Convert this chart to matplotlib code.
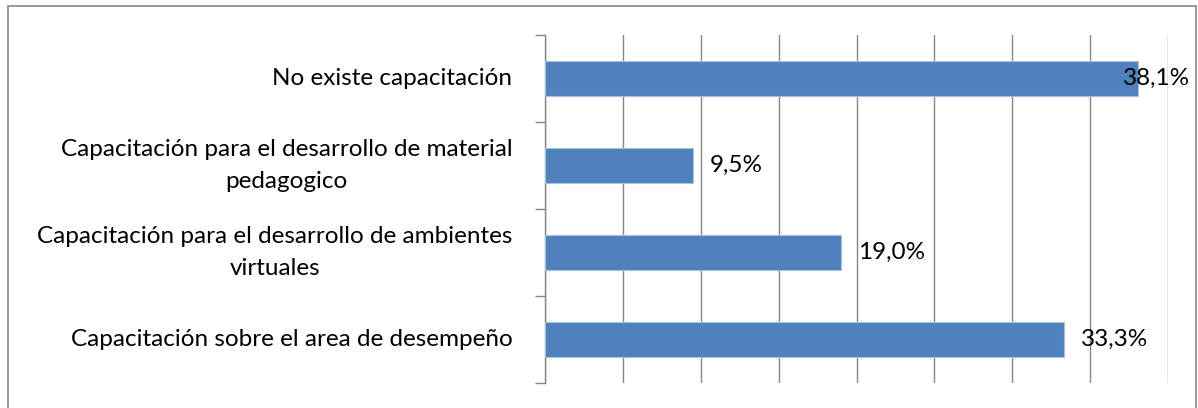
import matplotlib.pyplot as plt
from matplotlib.patches import Rectangle

# data (bottom to top as drawn)
categories = [
    "Capacitación sobre el area de desempeño",
    "Capacitación para el desarrollo de ambientes\nvirtuales",
    "Capacitación para el desarrollo de material\npedagogico",
    "No existe capacitación",
]
values = [33.3, 19.0, 9.5, 38.1]
labels = ["33,3%", "19,0%", "9,5%", "38,1%"]

plt.rcParams['font.family'] = ['Lato', 'DejaVu Sans']

fig = plt.figure(figsize=(11.98, 4.08), dpi=100)
ax = fig.add_axes([545/1198, 1 - 383/408, (1168 - 545)/1198, (383 - 35)/408])

# outer chart border
fig.patches.append(Rectangle((8/1198, -0.05), (1196 - 8)/1198, 1 - 6/408 + 0.05,
                             transform=fig.transFigure, fill=False,
                             edgecolor='#868686', linewidth=1.2))

y = range(len(categories))
ax.barh(y, values, height=0.4, color='#4F81BD', edgecolor='#A7C0DE', linewidth=0.8, zorder=3)

ax.set_xlim(0, 40)
ax.set_ylim(-0.5, len(categories) - 0.5)
ax.set_xticks(range(0, 41, 5))
ax.tick_params(axis='x', length=0, labelbottom=False)
ax.grid(axis='x', color='#868686', linewidth=1.0, zorder=0)

ax.set_yticks([i - 0.5 for i in range(len(categories) + 1)])
ax.set_yticklabels([])
ax.tick_params(axis='y', which='major', length=7, color='#868686', width=1.0, direction='out')
ax.set_yticks([], minor=True)
for s in ['top', 'right', 'bottom']:
    ax.spines[s].set_visible(False)
ax.spines['left'].set_color('#868686')
ax.spines['left'].set_linewidth(1.0)

# category labels, centered lines, right edge near x=513px
for i, c in enumerate(categories):
    ax.annotate(c, (0, i), xycoords=('axes fraction', 'data'), xytext=(-23.5, 0),
                textcoords='offset points', ha='right', va='center',
                multialignment='center', linespacing=1.65, fontsize=17.5)

for i, (v, t) in enumerate(zip(values, labels)):
    dx = 17 if v < 35 else -15
    ax.annotate(t, (v, i), xytext=(dx * 0.72, 0), textcoords='offset points',
                va='center', ha='left', fontsize=17.5, zorder=4)

fig.savefig('out.png', dpi=100)
